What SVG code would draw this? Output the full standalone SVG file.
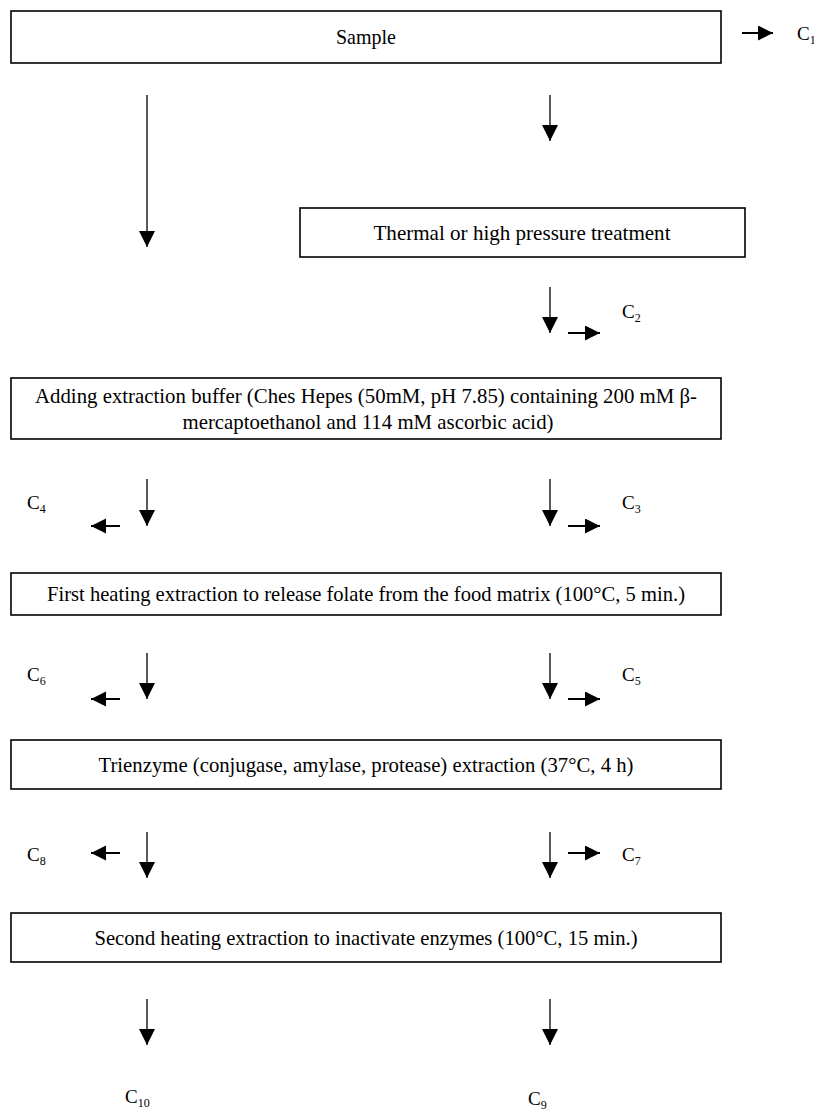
<svg xmlns="http://www.w3.org/2000/svg" width="814" height="1114" viewBox="0 0 814 1114">
<style>
.box{fill:#fff;stroke:#000;stroke-width:1.6}
.t{font-family:"Liberation Serif","Times New Roman",serif;font-size:21px;fill:#000}
.c{font-family:"Liberation Serif","Times New Roman",serif;font-size:19px;fill:#000}
.sub{font-size:12px}
.v{stroke:#000;stroke-width:1.3;fill:none;marker-end:url(#ah)}
.h{stroke:#000;stroke-width:2;fill:none;marker-end:url(#ah2)}
</style>
<defs>
<marker id="ah" markerUnits="userSpaceOnUse" markerWidth="18" markerHeight="18" refX="16" refY="8" orient="auto">
<path d="M0,0 L16,8 L0,16 z" fill="#000"/>
</marker>
<marker id="ah2" markerUnits="userSpaceOnUse" markerWidth="18" markerHeight="18" refX="15" refY="7.5" orient="auto">
<path d="M0,0 L15,7.5 L0,15 z" fill="#000"/>
</marker>
</defs>
<rect width="814" height="1114" fill="#fff"/>

<g id="sample">
<rect class="box" x="11" y="11" width="710" height="52"/>
<text class="t" x="366" y="44" text-anchor="middle" textLength="60" lengthAdjust="spacingAndGlyphs">Sample</text>
</g>
<g id="thermal">
<rect class="box" x="300" y="208" width="445" height="49"/>
<text class="t" x="522" y="240" text-anchor="middle" textLength="297" lengthAdjust="spacingAndGlyphs">Thermal or high pressure treatment</text>
</g>
<g id="buffer">
<rect class="box" x="11" y="378" width="710" height="61"/>
<text class="t" x="366" y="403" text-anchor="middle" textLength="662" lengthAdjust="spacingAndGlyphs">Adding extraction buffer (Ches Hepes (50mM, pH 7.85) containing 200 mM β-</text>
<text class="t" x="368" y="429" text-anchor="middle" textLength="371" lengthAdjust="spacingAndGlyphs">mercaptoethanol and 114 mM ascorbic acid)</text>
</g>
<g id="first-heating">
<rect class="box" x="11" y="573" width="710" height="42"/>
<text class="t" x="366" y="601" text-anchor="middle" textLength="638" lengthAdjust="spacingAndGlyphs">First heating extraction to release folate from the food matrix (100°C, 5 min.)</text>
</g>
<g id="trienzyme">
<rect class="box" x="11" y="740" width="710" height="49"/>
<text class="t" x="366" y="772" text-anchor="middle" textLength="535" lengthAdjust="spacingAndGlyphs">Trienzyme (conjugase, amylase, protease) extraction (37°C, 4 h)</text>
</g>
<g id="second-heating">
<rect class="box" x="11" y="913" width="710" height="49"/>
<text class="t" x="366" y="945" text-anchor="middle" textLength="543" lengthAdjust="spacingAndGlyphs">Second heating extraction to inactivate enzymes (100°C, 15 min.)</text>
</g>

<g id="labels">
<text class="c" x="797" y="40">C<tspan class="sub" dy="4">1</tspan></text>
<text class="c" x="622" y="318">C<tspan class="sub" dy="4">2</tspan></text>
<text class="c" x="622" y="509">C<tspan class="sub" dy="4">3</tspan></text>
<text class="c" x="27" y="509">C<tspan class="sub" dy="4">4</tspan></text>
<text class="c" x="622" y="681">C<tspan class="sub" dy="4">5</tspan></text>
<text class="c" x="27" y="681">C<tspan class="sub" dy="4">6</tspan></text>
<text class="c" x="622" y="861">C<tspan class="sub" dy="4">7</tspan></text>
<text class="c" x="27" y="861">C<tspan class="sub" dy="4">8</tspan></text>
<text class="c" x="528" y="1105">C<tspan class="sub" dy="4">9</tspan></text>
<text class="c" x="125" y="1103">C<tspan class="sub" dy="4">10</tspan></text>
</g>

<g id="connectors">
<line class="h" x1="742" y1="33" x2="773" y2="33"/>
<line class="v" x1="147" y1="95" x2="147" y2="247"/>
<line class="v" x1="550" y1="95" x2="550" y2="141"/>
<line class="v" x1="550" y1="287" x2="550" y2="333"/>
<line class="h" x1="568" y1="333" x2="600" y2="333"/>
<line class="v" x1="147" y1="479" x2="147" y2="526"/>
<line class="v" x1="550" y1="479" x2="550" y2="526"/>
<line class="h" x1="120" y1="526" x2="91" y2="526"/>
<line class="h" x1="568" y1="526" x2="600" y2="526"/>
<line class="v" x1="147" y1="653" x2="147" y2="699"/>
<line class="v" x1="550" y1="653" x2="550" y2="699"/>
<line class="h" x1="120" y1="699" x2="91" y2="699"/>
<line class="h" x1="568" y1="699" x2="600" y2="699"/>
<line class="v" x1="147" y1="832" x2="147" y2="878"/>
<line class="v" x1="550" y1="832" x2="550" y2="878"/>
<line class="h" x1="120" y1="853" x2="91" y2="853"/>
<line class="h" x1="568" y1="853" x2="600" y2="853"/>
<line class="v" x1="147" y1="999" x2="147" y2="1045"/>
<line class="v" x1="550" y1="999" x2="550" y2="1045"/>
</g>
</svg>
